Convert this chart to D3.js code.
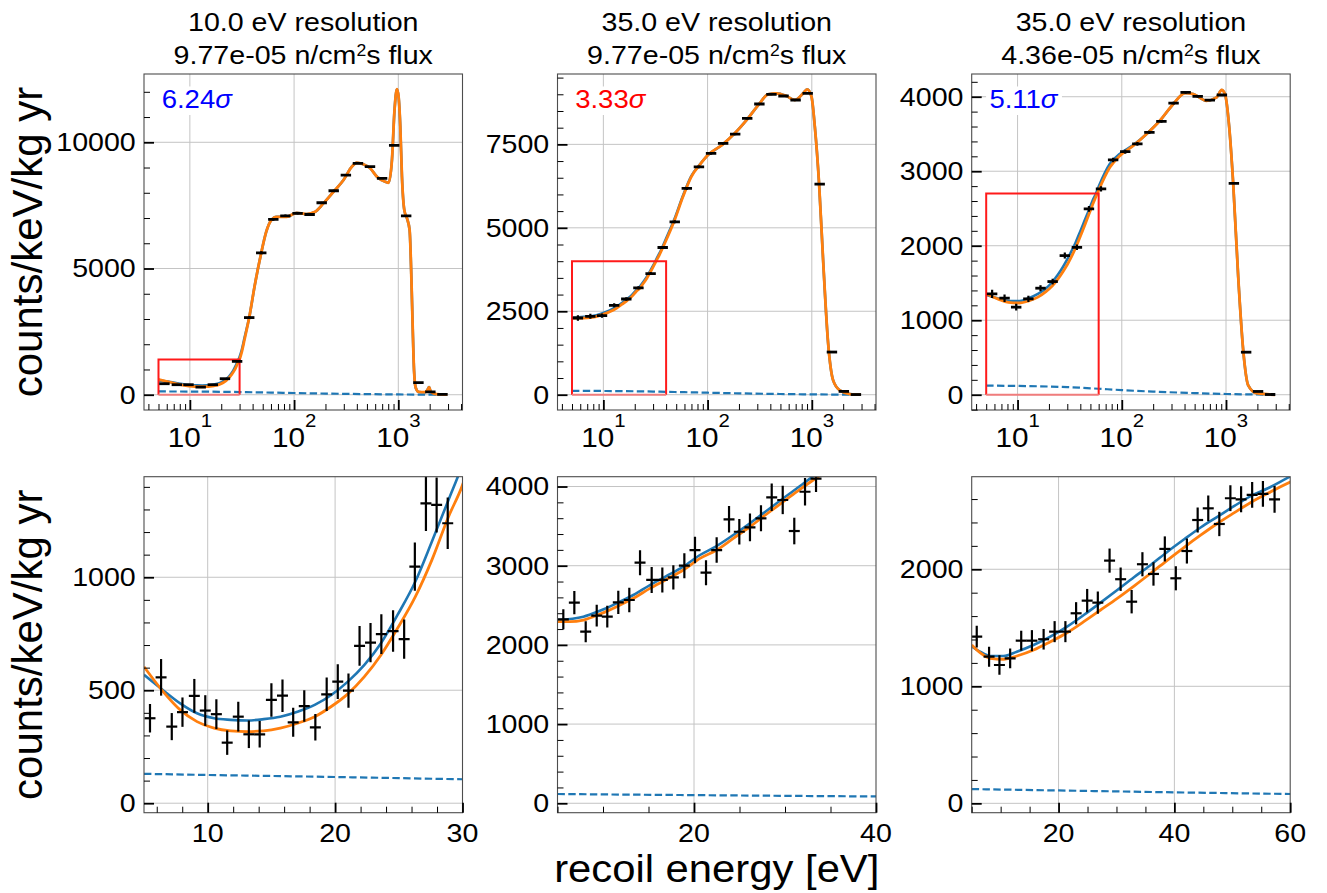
<!DOCTYPE html>
<html>
<head>
<meta charset="utf-8">
<script src="https://cdn.jsdelivr.net/npm/d3@7"></script>
<style>
  body { margin: 0; background: #fff; }
  svg { display: block; }
</style>
</head>
<body>
<div id="chart"></div>
<script>
// ---- labels ----
const resolutionLabels = ["10.0", "35.0", "35.0"];
const fluxLabels = ["9.77e-05", "9.77e-05", "4.36e-05"];
const significance = ["6.24", "3.33", "5.11"];
const significanceColor = ["#0000ff", "#ff0000", "#0000ff"];

// ---- top row: coarse log bins (eV) and rates (counts/keV/kg yr) ----
const topBins = [5.7, 7.5, 9.7, 12.7, 16.6, 21.7, 28.4, 37.1, 48.4, 63.2, 82.6, 108, 141, 184, 240, 314, 410, 535, 699, 913, 1190, 1560, 2030, 2650];
const topRateA = [436, 397, 397, 302, 397, 635, 1321, 3056, 5620, 6944, 7087, 7180, 7140, 7604, 8080, 8702, 9166, 9033, 8571, 9880, 7087, 476, 110, 10];
const topErrA = [35, 30, 28, 24, 25, 28, 35, 55, 60, 55, 50, 45, 40, 38, 35, 33, 30, 28, 25, 25, 20, 8, 4, 2];
const topRateB = [2298, 2349, 2370, 2679, 2868, 3198, 3630, 4410, 5178, 6180, 6828, 7230, 7530, 7809, 8280, 8709, 9000, 8949, 8829, 9030, 6309, 1278, 99, 5];
const topErrB = [85, 75, 65, 58, 52, 48, 45, 45, 45, 45, 42, 40, 38, 35, 33, 30, 28, 25, 23, 22, 17, 7, 2, 1];
const topRateC = [1354, 1296, 1175, 1287, 1430, 1519, 1868, 1979, 2494, 2762, 3151, 3262, 3366, 3521, 3669, 3915, 4058, 4004, 3955, 4023, 2838, 571, 44, 3];
const topErrC = [55, 50, 45, 42, 40, 38, 40, 36, 38, 35, 30, 27, 25, 22, 20, 19, 18, 16, 15, 14, 11, 5, 2, 1];

// ---- bottom row: fine linear bins ----
const botBinHalfWidth = [0.431, 0.603, 0.948];
const botEnergyA = [5.47, 6.34, 7.18, 8.02, 8.95, 9.81, 10.68, 11.53, 12.4, 13.23, 14.08, 15.0, 15.87, 16.71, 17.58, 18.45, 19.34, 20.21, 21.05, 21.92, 22.78, 23.63, 24.55, 25.42, 26.26, 27.13, 27.97, 28.84];
const botRateA = [376, 557, 339, 403, 475, 410, 394, 268, 383, 305, 305, 457, 476, 358, 430, 336, 482, 538, 498, 696, 711, 748, 762, 726, 1047, 1327, 1320, 1239];
const botErrA = [63, 81, 60, 65, 75, 68, 66, 54, 66, 61, 59, 74, 72, 64, 70, 59, 74, 77, 76, 88, 87, 88, 92, 87, 107, 122, 122, 114];
const botEnergyB = [5.64, 6.85, 8.1, 9.31, 10.47, 11.68, 12.89, 14.07, 15.35, 16.52, 17.73, 18.94, 20.11, 21.32, 22.49, 23.85, 24.98, 26.15, 27.36, 28.54, 29.75, 31.02, 32.2, 33.41];
const botRateB = [2323, 2533, 2167, 2369, 2356, 2538, 2567, 3038, 2820, 2820, 2853, 3000, 3198, 2912, 3198, 3586, 3429, 3485, 3598, 3864, 3830, 3438, 3934, 4100];
const botErrB = [126, 147, 133, 137, 137, 147, 154, 158, 164, 158, 154, 158, 168, 158, 162, 168, 162, 175, 164, 173, 179, 168, 175, 168];
const botEnergyC = [5.87, 8.0, 9.79, 11.64, 13.55, 15.4, 17.42, 19.32, 21.18, 23.03, 24.94, 26.78, 28.81, 30.72, 32.62, 34.48, 36.39, 38.35, 40.25, 42.16, 44.02, 45.85, 47.76, 49.67, 51.52, 53.43, 55.29, 57.3];
const botRateC = [1424, 1253, 1182, 1239, 1390, 1390, 1402, 1467, 1467, 1624, 1732, 1715, 2074, 1915, 1723, 2043, 1960, 2174, 1923, 2156, 2421, 2521, 2387, 2607, 2598, 2635, 2644, 2598];
const botErrC = [93, 85, 83, 85, 85, 90, 88, 90, 90, 95, 100, 95, 103, 100, 100, 103, 100, 107, 103, 107, 107, 110, 104, 110, 111, 110, 110, 114];

// ---- fitted curves [energy, rate] ----
const orangeA = [[5, 604], [6.5, 494], [7.84, 413], [9.16, 361], [10.5, 332], [11.8, 320], [13.1, 317], [14.4, 320], [15.7, 332], [17.05, 354], [18.4, 383], [19.7, 428], [21, 484], [22.3, 560], [23.6, 656], [24.9, 774], [26.3, 914], [27.6, 1077], [28.9, 1268], [30, 1408], [31.5, 1700], [33.5, 2200], [37.1, 3056], [42, 4350], [48.4, 5620], [54, 6450], [60, 6900], [68, 7048], [85, 7048], [106, 7206], [132, 7155], [159, 7246], [191, 7579], [239, 8040], [298, 8504], [358, 9032], [398, 9190], [461, 9130], [538, 8968], [624, 8635], [750, 8437], [807, 8397], [869, 9298], [920, 11282], [970, 12103], [1006, 11810], [1045, 10619], [1084, 8635], [1142, 7313], [1212, 6984], [1284, 6520], [1334, 4667], [1374, 2683], [1416, 964], [1469, 278], [1570, 110], [1800, 100], [1900, 180], [1972, 300], [2050, 120], [2200, 40], [2500, 10], [2950, 3]];
const blueLowA = [[5, 568], [6.5, 500], [7.84, 442], [9.16, 398], [10.5, 376], [11.8, 369], [13.1, 366], [14.4, 372], [15.7, 383], [17.05, 405], [18.4, 435], [19.7, 479], [21, 538], [22.3, 612], [23.6, 708], [24.9, 833], [26.3, 981], [27.6, 1158], [28.9, 1342], [30, 1500], [31.5, 1780], [33.5, 2270]];
const bkgA = [[5, 130], [10, 125], [20, 116], [30, 106], [40, 98], [60, 86], [100, 68], [200, 46], [500, 24], [1000, 11], [2000, 4], [2950, 1]];

const orangeB = [[5, 2293], [6.37, 2293], [7.84, 2314], [9.67, 2390], [11.5, 2483], [13.33, 2588], [15.16, 2714], [17, 2828], [18.82, 2946], [20.66, 3093], [22.49, 3198], [24.32, 3346], [26.15, 3492], [27.99, 3653], [29.81, 3808], [31.65, 3965], [33.1, 4082], [34.6, 4200], [40, 4629], [48.2, 5229], [58, 5928], [69.7, 6528], [83.8, 6879], [100.7, 7179], [140, 7500], [182, 7830], [244, 8280], [316, 8730], [380, 9000], [457, 9030], [571, 8949], [687, 8829], [826, 9030], [902, 9150], [993, 8928], [1069, 8028], [1175, 6309], [1284, 4029], [1435, 1530], [1603, 429], [1858, 129], [2317, 20], [2950, 0]];
const blueLowB = [[5, 2314], [7.84, 2356], [9.67, 2432], [11.5, 2525], [13.33, 2630], [15.16, 2756], [17, 2870], [18.82, 2988], [20.66, 3135], [22.49, 3249], [24.32, 3388], [26.15, 3535], [27.99, 3695], [29.81, 3851], [31.65, 4006], [32.93, 4116], [34.6, 4240], [40, 4680], [48.2, 5270], [58, 5960], [69.7, 6550], [83.8, 6890]];
const bkgB = [[5, 117], [10, 112], [20, 103], [30, 94], [40, 86], [60, 76], [100, 60], [200, 41], [500, 21], [1000, 10], [2000, 3], [2950, 1]];

const orangeC = [[5, 1353], [6.44, 1287], [8.17, 1239], [10.48, 1231], [12.8, 1259], [15.68, 1310], [18.58, 1381], [21.47, 1458], [24.35, 1552], [27.25, 1652], [30.14, 1752], [33.02, 1857], [35.92, 1966], [38.81, 2079], [41.69, 2188], [44.59, 2293], [47.48, 2393], [50.36, 2484], [53.26, 2573], [56.15, 2650], [60.19, 2749], [76.9, 3052], [96, 3209], [129, 3343], [173, 3500], [232, 3678], [312, 3902], [404, 4049], [486, 4036], [652, 3946], [813, 3991], [908, 4090], [977, 4036], [1074, 3588], [1173, 2829], [1310, 1577], [1463, 595], [1634, 125], [1963, 20], [2950, 0]];
const blueLowC = [[5, 1340], [6.44, 1296], [8.17, 1259], [10.48, 1259], [12.8, 1296], [15.68, 1353], [18.58, 1424], [21.47, 1510], [24.35, 1609], [27.25, 1715], [30.14, 1823], [33.02, 1932], [35.92, 2037], [38.81, 2150], [41.69, 2256], [44.59, 2359], [47.48, 2450], [50.36, 2541], [53.26, 2627], [56.15, 2692], [60.19, 2797], [76.9, 3100], [96, 3235], [129, 3350]];
const bkgC = [[5, 122], [10, 118], [20, 110], [30, 102], [40, 94], [60, 80], [100, 62], [200, 42], [500, 22], [1000, 10], [2000, 3], [2950, 1]];

// ---- axis limits, ticks, zoom boxes ----
const topXLim = [3.63, 4130];
const topYLim = [[-605, 12705], [-458, 9608], [-205, 4305]];
const topYTicks = [[0, 5000, 10000], [0, 2500, 5000, 7500], [0, 1000, 2000, 3000, 4000]];
const topYMinor = [1000, 500, 200];
const zoomX = [[5, 30], [5, 40], [5, 60]];
const zoomTop = [1400, 4000, 2700];
const botYLim = [[-42, 1445], [-119, 4124], [-80, 2791]];
const botYTicks = [[0, 500, 1000], [0, 1000, 2000, 3000, 4000], [0, 1000, 2000]];
const botYMinor = [100, 200, 200];
const botXTicks = [[10, 20, 30], [20, 40], [20, 40, 60]];
const botXMinor = [2, 5, 5];

// ---- layout ----
const FONT = '"Liberation Sans", Arial, Helvetica, sans-serif';
const STRETCH = "scale(1.1,1)";
const colLeft = [144, 557.5, 971.7];
const rowTop = [74, 476.7];
const pw = 318.5, ph = 336;
const topBarHalf = 0.05; // decades

const svg = d3.select("#chart").append("svg")
  .attr("width", 1327).attr("height", 893)
  .style("background", "#fff")
  .style("font-family", FONT);

const blues = [
  blueLowA.concat(orangeA.filter(d => d[0] >= 37.1)),
  blueLowB.concat(orangeB.filter(d => d[0] >= 100)),
  blueLowC.concat(orangeC.filter(d => d[0] >= 173))
];
const oranges = [orangeA, orangeB, orangeC];
const bkgs = [bkgA, bkgB, bkgC];
const topRates = [topRateA, topRateB, topRateC];
const topErrs = [topErrA, topErrB, topErrC];
const botE = [botEnergyA, botEnergyB, botEnergyC];
const botR = [botRateA, botRateB, botRateC];
const botErr = [botErrA, botErrB, botErrC];

const panels = [];
[0, 1, 2].forEach(i => {
  panels.push({
    left: colLeft[i], top: rowTop[0], log: true, barWidth: 2.8,
    xDomain: topXLim, yDomain: topYLim[i], yMajor: topYTicks[i], yMinorStep: topYMinor[i],
    xMajor: [10, 100, 1000],
    points: topBins.map((e, k) => ({
      x: e, x0: e / Math.pow(10, topBarHalf), x1: e * Math.pow(10, topBarHalf),
      y: topRates[i][k], err: topErrs[i][k]
    })),
    orange: oranges[i], blue: blues[i], bkg: bkgs[i],
    box: { x: zoomX[i], y: [0, zoomTop[i]] },
    sig: significance[i], sigColor: significanceColor[i]
  });
});
[0, 1, 2].forEach(i => {
  panels.push({
    left: colLeft[i], top: rowTop[1], log: false, barWidth: 2.2,
    xDomain: zoomX[i], yDomain: botYLim[i], yMajor: botYTicks[i], yMinorStep: botYMinor[i],
    xMajor: botXTicks[i], xMinorStep: botXMinor[i],
    points: botE[i].map((e, k) => ({
      x: e, x0: e - botBinHalfWidth[i], x1: e + botBinHalfWidth[i],
      y: botR[i][k], err: botErr[i][k]
    })),
    orange: oranges[i], blue: blues[i], bkg: bkgs[i]
  });
});

function styleTicks(sel, major) {
  sel.select(".domain").remove();
  sel.selectAll(".tick line")
    .attr("stroke", "#000")
    .attr("stroke-width", major ? 1.8 : 1);
}

panels.forEach((p, idx) => {
  const g = svg.append("g").attr("transform", `translate(${p.left},${p.top})`);
  const x = (p.log ? d3.scaleLog() : d3.scaleLinear()).domain(p.xDomain).range([0, pw]);
  const y = d3.scaleLinear().domain(p.yDomain).range([ph, 0]);

  const clipId = "clip" + idx;
  g.append("clipPath").attr("id", clipId)
    .append("rect").attr("width", pw).attr("height", ph);

  // grid
  const grid = g.append("g").attr("stroke", "#c4c4c4").attr("stroke-width", 1);
  grid.selectAll(".gx").data(p.xMajor.filter(v => v > p.xDomain[0] && v < p.xDomain[1]))
    .join("line").attr("class", "gx")
    .attr("x1", d => x(d)).attr("x2", d => x(d)).attr("y1", 0).attr("y2", ph);
  grid.selectAll(".gy").data(p.yMajor)
    .join("line").attr("class", "gy")
    .attr("x1", 0).attr("x2", pw).attr("y1", d => y(d)).attr("y2", d => y(d));

  const plot = g.append("g").attr("clip-path", `url(#${clipId})`);
  const line = d3.line().x(d => x(d[0])).y(d => y(d[1])).curve(d3.curveMonotoneX);

  plot.append("path").datum(p.bkg).attr("d", line)
    .attr("fill", "none").attr("stroke", "#1f77b4").attr("stroke-width", 2.2)
    .attr("stroke-dasharray", "7.4,3.4");
  plot.append("path").datum(p.blue).attr("d", line)
    .attr("fill", "none").attr("stroke", "#1f77b4").attr("stroke-width", 2.6);
  plot.append("path").datum(p.orange).attr("d", line)
    .attr("fill", "none").attr("stroke", "#ff7f0e").attr("stroke-width", 2.8);

  if (p.box) {
    const bx0 = x(p.box.x[0]), bx1 = x(p.box.x[1]);
    const by0 = y(p.box.y[0]), by1 = y(p.box.y[1]);
    plot.append("path")
      .attr("d", `M${bx0},${by0}V${by1}H${bx1}V${by0}`)
      .attr("fill", "none").attr("stroke", "#ff1a1a").attr("stroke-width", 2);
    plot.append("line")
      .attr("x1", bx0).attr("x2", bx1).attr("y1", by0).attr("y2", by0)
      .attr("stroke", "#f07c7c").attr("stroke-width", 2);
  }

  // data points with error bars
  const pts = plot.append("g").attr("stroke", "#000")
    .selectAll("g").data(p.points).join("g");
  pts.append("line").attr("stroke-width", p.barWidth)
    .attr("x1", d => x(d.x0)).attr("x2", d => x(d.x1))
    .attr("y1", d => y(d.y)).attr("y2", d => y(d.y));
  pts.append("line").attr("stroke-width", 2.2)
    .attr("x1", d => x(d.x)).attr("x2", d => x(d.x))
    .attr("y1", d => y(d.y - d.err)).attr("y2", d => y(d.y + d.err));

  // frame
  g.append("rect").attr("width", pw).attr("height", ph)
    .attr("fill", "none").attr("stroke", "#4d4d4d").attr("stroke-width", 1.1);

  // y axis
  const yMinor = d3.range(Math.ceil(p.yDomain[0] / p.yMinorStep) * p.yMinorStep, p.yDomain[1], p.yMinorStep)
    .filter(v => !p.yMajor.includes(v));
  g.append("g").call(d3.axisLeft(y).tickValues(yMinor).tickSize(-6).tickFormat(""))
    .call(s => styleTicks(s, false));
  const yAx = g.append("g")
    .call(d3.axisLeft(y).tickValues(p.yMajor).tickSize(-10).tickPadding(7.5).tickFormat(d3.format("d")))
    .call(s => styleTicks(s, true));
  yAx.selectAll("text")
    .attr("fill", "#000").attr("transform", STRETCH)
    .style("font-family", FONT).style("font-size", "26px");

  // x axis
  const xAxisG = g.append("g").attr("transform", `translate(0,${ph})`);
  let xMinor;
  if (p.log) {
    xMinor = x.ticks().filter(v => !p.xMajor.includes(v));
  } else {
    xMinor = d3.range(Math.ceil(p.xDomain[0] / p.xMinorStep) * p.xMinorStep, p.xDomain[1] + 1e-9, p.xMinorStep)
      .filter(v => !p.xMajor.includes(v));
  }
  xAxisG.append("g").call(d3.axisBottom(x).tickValues(xMinor).tickSize(-6).tickFormat(""))
    .call(s => styleTicks(s, false));
  xAxisG.append("g").call(d3.axisBottom(x).tickValues(p.xMajor).tickSize(-10).tickFormat(""))
    .call(s => styleTicks(s, true));

  const xl = xAxisG.append("g").selectAll("text").data(p.xMajor).join("text")
    .attr("text-anchor", "middle").attr("fill", "#000")
    .style("font-family", FONT);
  if (p.log) {
    xl.attr("transform", d => `translate(${x(d)},36.7) ${STRETCH}`)
      .style("font-size", "27px");
    xl.append("tspan").text("10");
    xl.append("tspan").attr("dy", -20).style("font-size", "18.5px")
      .text(d => Math.round(Math.log10(d)));
  } else {
    xl.attr("transform", d => `translate(${x(d)},29) ${STRETCH}`)
      .style("font-size", "26px")
      .text(d => d);
  }

  // significance annotation
  if (p.sig) {
    const ann = g.append("g").attr("transform", `translate(17.7,34.3) ${STRETCH}`);
    const bg = ann.append("rect").attr("fill", "#fff");
    const t = ann.append("text").attr("fill", p.sigColor)
      .style("font-family", FONT).style("font-size", "25px");
    t.append("tspan").text(p.sig);
    t.append("tspan").style("font-style", "italic").text("σ");
    const bb = t.node().getBBox();
    bg.attr("x", bb.x - 3).attr("y", bb.y + 1).attr("width", bb.width + 6).attr("height", bb.height);
  }
});

// titles
[0, 1, 2].forEach(i => {
  const cx = colLeft[i] + pw / 2;
  svg.append("text").attr("text-anchor", "middle").attr("fill", "#000")
    .attr("transform", `translate(${cx},30.7) ${STRETCH}`)
    .style("font-size", "26px")
    .text(`${resolutionLabels[i]} eV resolution`);
  const t2 = svg.append("text").attr("text-anchor", "middle").attr("fill", "#000")
    .attr("transform", `translate(${cx},64) ${STRETCH}`)
    .style("font-size", "26px");
  t2.append("tspan").text(`${fluxLabels[i]} n/cm`);
  t2.append("tspan").attr("dy", -8).style("font-size", "16px").text("2");
  t2.append("tspan").attr("dy", 8).text("s flux");
});

// axis labels
rowTop.forEach(top => {
  svg.append("text").attr("text-anchor", "middle").attr("fill", "#000")
    .attr("transform", `translate(42,${top + ph / 2}) rotate(-90)`)
    .style("font-size", "42px")
    .text("counts/keV/kg yr");
});
svg.append("text").attr("text-anchor", "middle").attr("fill", "#000")
  .attr("transform", `translate(${colLeft[1] + pw / 2},882) ${STRETCH}`)
  .style("font-size", "38px")
  .text("recoil energy [eV]");
</script>
</body>
</html>
